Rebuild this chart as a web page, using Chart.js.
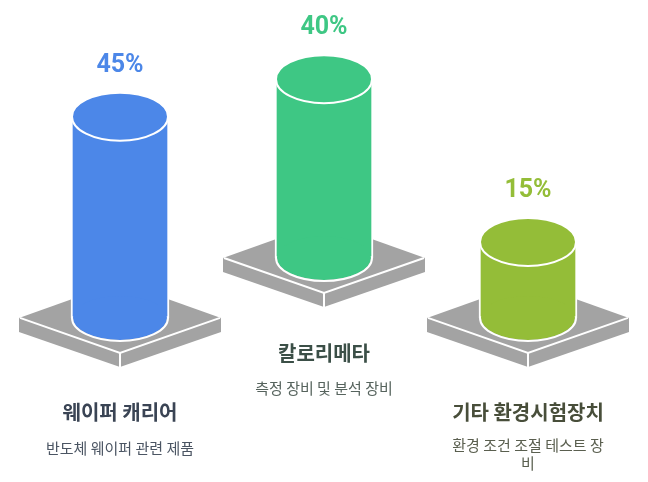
<!DOCTYPE html>
<html lang="ko">
<head>
<meta charset="utf-8">
<title>환경시험장치 비중</title>
<style>
  html, body { margin: 0; padding: 0; background: #ffffff; }
  canvas { display: block; }
</style>
<script src="https://cdn.jsdelivr.net/npm/chart.js@4"></script>
</head>
<body>
<canvas id="cylinderChart" width="648" height="482"></canvas>
<script>
const categories = ['웨이퍼 캐리어', '칼로리메타', '기타 환경시험장치'];
const descriptions = [['반도체 웨이퍼 관련 제품'], ['측정 장비 및 분석 장비'], ['환경 조건 조절 테스트 장', '비']];
const shareLabels = ['45%', '40%', '15%'];
// height of each cylinder and level of its floor
const cylinderHeights = [45, 40, 17];
const floorLevels = [0, 13.4, 0];

const bodyColors = ['#4c87e8', '#3ec784', '#94bd38'];
const titleColors = ['#3a4454', '#3b4f47', '#484e3a'];
const textColors = ['#4b5563', '#56635d', '#5a5f4f'];
const plateColor = '#a3a3a3';

const drawPlate = (ctx, x, y) => {
    // slab under one cylinder, sides first and then the white edges
    ctx.fillStyle = plateColor;
    ctx.beginPath();
    ctx.moveTo(x, y - 36);
    ctx.lineTo(x + 101, y);
    ctx.lineTo(x + 101, y + 14);
    ctx.lineTo(x, y + 49);
    ctx.lineTo(x - 101, y + 14);
    ctx.lineTo(x - 101, y);
    ctx.closePath();
    ctx.fill();

    ctx.strokeStyle = '#ffffff';
    ctx.lineWidth = 2;
    ctx.beginPath();
    ctx.moveTo(x - 100, y);
    ctx.lineTo(x, y + 35);
    ctx.lineTo(x + 100, y);
    ctx.moveTo(x, y + 35);
    ctx.lineTo(x, y + 50);
    ctx.stroke();
};

const cylinderPlugin = {
    id: 'cylinders',
    beforeDatasetsDraw(chart) {
        chart.getDatasetMeta(0).data.forEach(bar => drawPlate(chart.ctx, bar.x, bar.base));
    },
    afterDatasetsDraw(chart) {
        const ctx = chart.ctx;
        chart.getDatasetMeta(0).data.forEach((bar, i) => {
            ctx.save();
            ctx.fillStyle = bodyColors[i];
            ctx.strokeStyle = '#ffffff';
            ctx.lineWidth = 2;

            // round bottom
            ctx.beginPath();
            ctx.ellipse(bar.x, bar.base, 47, 22, 0, 0, Math.PI * 2);
            ctx.fill();
            ctx.beginPath();
            ctx.ellipse(bar.x, bar.base, 48, 23, 0, 0, Math.PI);
            ctx.stroke();

            // round top
            ctx.beginPath();
            ctx.ellipse(bar.x, bar.y, 48, 24, 0, 0, Math.PI * 2);
            ctx.fill();
            ctx.stroke();

            ctx.textAlign = 'center';
            ctx.textBaseline = 'middle';
            ctx.font = 'bold 25px Roboto';
            ctx.fillText(shareLabels[i], bar.x, bar.y - 51);

            ctx.fillStyle = titleColors[i];
            ctx.font = 'bold 20px "Noto Sans CJK KR"';
            ctx.fillText(categories[i], bar.x, bar.base + 95);

            ctx.fillStyle = textColors[i];
            ctx.font = '15px "Noto Sans CJK KR"';
            descriptions[i].forEach((line, n) => {
                ctx.fillText(line, bar.x, bar.base + 130 - (descriptions[i].length - 1) * 3 + n * 18);
            });
            ctx.restore();
        });
    }
};

new Chart(document.getElementById('cylinderChart'), {
    type: 'bar',
    data: {
        labels: categories,
        datasets: [{
            data: cylinderHeights.map((h, i) => [floorLevels[i], floorLevels[i] + h]),
            backgroundColor: bodyColors,
            borderColor: '#ffffff',
            borderWidth: 2,
            borderSkipped: false,
            barThickness: 98
        }]
    },
    options: {
        responsive: false,
        animation: false,
        layout: { padding: { left: 18, right: 18, top: 0, bottom: 0 } },
        plugins: {
            legend: { display: false },
            tooltip: { enabled: false }
        },
        scales: {
            x: { display: false },
            y: { display: false, min: -36.7, max: 71.1 }
        }
    },
    plugins: [cylinderPlugin]
});
</script>
</body>
</html>
